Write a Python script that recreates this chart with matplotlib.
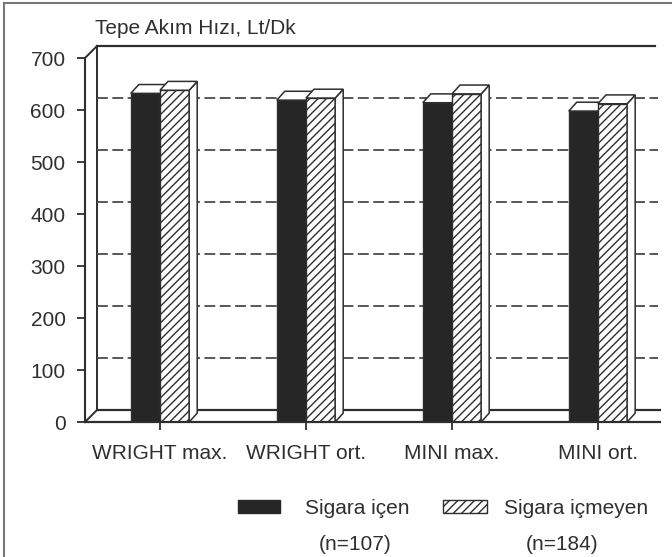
import matplotlib
matplotlib.use('Agg')
import matplotlib.pyplot as plt
from matplotlib.patches import Polygon, Rectangle
from matplotlib.lines import Line2D
import numpy as np

# ---- data ----
categories = ['WRIGHT max.', 'WRIGHT ort.', 'MINI max.', 'MINI ort.']
smokers = [632, 619, 614, 598]
nonsmokers = [638, 623, 631, 612]
yticks = [0, 100, 200, 300, 400, 500, 600, 700]
title = 'Tepe Akım Hızı, Lt/Dk'
leg_names = ['Sigara içen', 'Sigara içmeyen']
leg_counts = ['(n=107)', '(n=184)']

plt.rcParams['font.family'] = ['Liberation Sans', 'DejaVu Sans']
plt.rcParams['hatch.linewidth'] = 1.0
txt = '#2f2f2f'
ink = '#2e2e2e'
fs = 15

W, H = 672, 557
fig = plt.figure(figsize=(W / 100, H / 100), dpi=100)
ax = fig.add_axes([85 / W, 1 - 422 / H, 575 / W, 364 / H])
x0, x1 = -0.5136, 3.425
ax.set_xlim(x0, x1)
ax.set_ylim(0, 700)

x = np.arange(len(categories))
w = 0.2
# 3D offsets (data units)
wx, wy = 0.082, 23      # back wall
bx, by = 0.055, 17      # bar depth

# back wall + gridlines
xr = 3.39
ax.add_line(Line2D([x0 + wx, x0 + wx], [wy, 700 + wy], color=ink, lw=1.4, clip_on=False, zorder=1))
ax.add_line(Line2D([x0 + wx, xr], [700 + wy, 700 + wy], color=ink, lw=1.6, clip_on=False, zorder=1))
for t in yticks[1:-1]:
    ax.add_line(Line2D([x0 + wx, 3.41], [t + wy, t + wy], color='#4a4a4a', lw=1.3,
                       dashes=(6, 2.5), clip_on=False, zorder=1))
# side wall and floor
ax.add_line(Line2D([x0, x0 + wx], [700, 700 + wy], color=ink, lw=1.4, clip_on=False, zorder=1))
ax.add_line(Line2D([x0, x0 + wx], [0, wy], color=ink, lw=1.4, clip_on=False, zorder=1))
ax.add_line(Line2D([x0 + wx, x1], [wy, wy], color=ink, lw=1.6, clip_on=False, zorder=1))

def bar3d(left, v, face, hatch, z, side):
    ax.bar(left, v, w, align='edge', color=face, edgecolor=ink, hatch=hatch, lw=1.0, zorder=z)
    R = left + w
    if side:
        ax.add_patch(Polygon([(R, 0), (R + bx, by), (R + bx, v + by), (R, v)],
                             closed=True, facecolor='white', edgecolor=ink, lw=1.1,
                             zorder=z + 0.5, clip_on=False))
    ax.add_patch(Polygon([(left, v), (R, v), (R + bx, v + by), (left + bx, v + by)],
                         closed=True, facecolor='white', edgecolor=ink, lw=1.1,
                         zorder=z + 0.5, clip_on=False))

for i in range(len(categories)):
    bar3d(x[i] - w, smokers[i], '#262626', None, 3, False)
    bar3d(x[i], nonsmokers[i], 'white', '////', 4, True)

# axes styling
for s in ['top', 'right']:
    ax.spines[s].set_visible(False)
ax.spines['left'].set_color(ink)
ax.spines['left'].set_linewidth(1.5)
ax.spines['bottom'].set_color(ink)
ax.spines['bottom'].set_linewidth(1.6)
ax.spines['bottom'].set_zorder(5)
ax.set_yticks(yticks)
ax.set_yticklabels([str(t) for t in yticks])
ax.set_xticks(x)
ax.set_xticklabels(categories)
ax.tick_params(axis='y', direction='out', length=6, width=1.3, color=ink,
               labelsize=fs, labelcolor=txt, pad=8)
ax.tick_params(axis='x', direction='out', length=6, width=1.3, color=ink,
               labelsize=fs, labelcolor=txt, pad=10)
ax.patch.set_visible(False)

# title
fig.text(95 / W, 1 - 29 / H, title, fontsize=fs, color=txt, ha='left', va='center')

# legend (manual)
fig.patches.append(Rectangle((238 / W, 1 - 513 / H), 42 / W, 13 / H, transform=fig.transFigure,
                             facecolor='#262626', edgecolor='#262626', figure=fig))
fig.patches.append(Rectangle((443 / W, 1 - 513 / H), 44 / W, 13 / H, transform=fig.transFigure,
                             facecolor='white', edgecolor=ink, hatch='////', lw=1.0, figure=fig))
fig.text(357 / W, 1 - 508 / H, leg_names[0], fontsize=fs, color=txt, ha='center', va='center')
fig.text(355 / W, 1 - 545 / H, leg_counts[0], fontsize=fs, color=txt, ha='center', va='center')
fig.text(576 / W, 1 - 508 / H, leg_names[1], fontsize=fs, color=txt, ha='center', va='center')
fig.text(562 / W, 1 - 545 / H, leg_counts[1], fontsize=fs, color=txt, ha='center', va='center')

# frame (top and left)
fig.lines.append(Line2D([4 / W, 4 / W], [0, 1 - 3 / H], transform=fig.transFigure, color='#777', lw=1.5))
fig.lines.append(Line2D([4 / W, 1], [1 - 3 / H, 1 - 3 / H], transform=fig.transFigure, color='#777', lw=1.5))

fig.savefig('out.png', dpi=100, facecolor='white')
